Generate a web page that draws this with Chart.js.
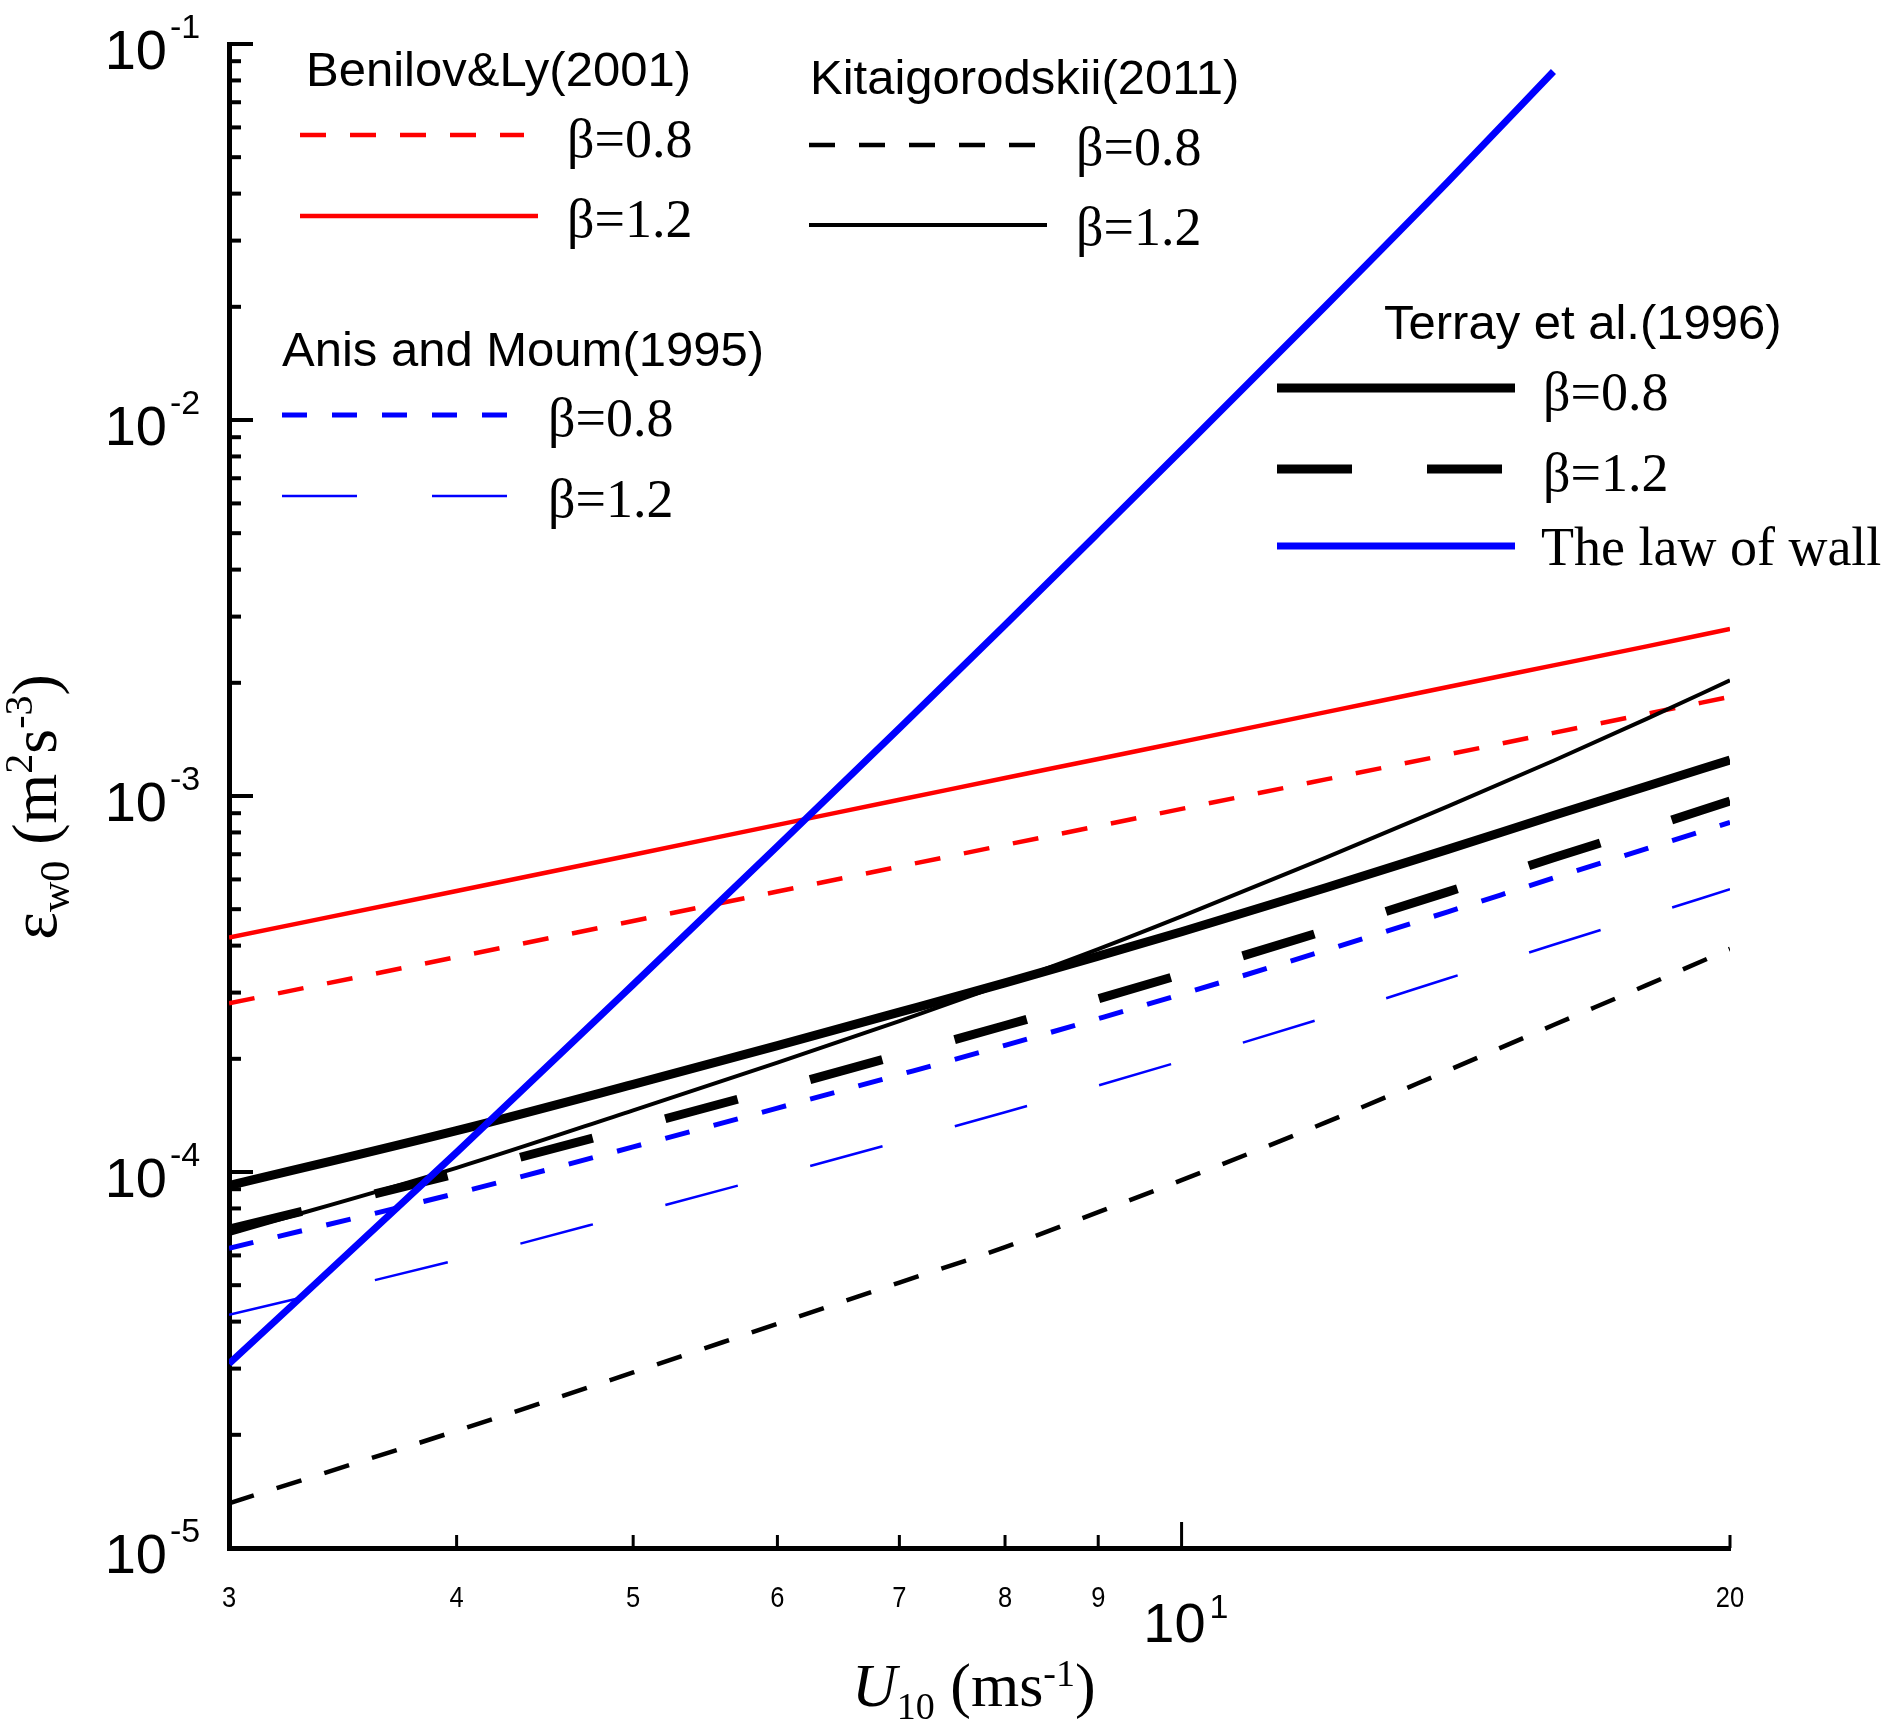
<!DOCTYPE html>
<html>
<head>
<meta charset="utf-8">
<script src="https://cdn.jsdelivr.net/npm/chart.js@4.4.1/dist/chart.umd.min.js"></script>
<style>
    html, body { margin: 0; padding: 0; background: #fff; }
    canvas { display: block; }
</style>
</head>
<body>
<canvas id="epsChart" width="1900" height="1736"></canvas>
<script>
// Wind speed grid (m/s)
const windSpeed = [3, 4, 5, 6, 7, 8, 9, 10, 12, 14, 16, 18, 20];

// Dissipation rate eps_w0 (m^2 s^-3)
const benilov08 = [2.81e-4, 3.73e-4, 4.65e-4, 5.57e-4, 6.49e-4, 7.41e-4, 8.32e-4, 9.24e-4, 1.107e-3, 1.289e-3, 1.472e-3, 1.654e-3, 1.835e-3];
const benilov12 = [4.20e-4, 5.59e-4, 6.98e-4, 8.38e-4, 9.77e-4, 1.117e-3, 1.254e-3, 1.393e-3, 1.671e-3, 1.950e-3, 2.225e-3, 2.50e-3, 2.78e-3];
const kitai08 = [1.315e-5, 2.05e-5, 2.93e-5, 3.95e-5, 5.08e-5, 6.31e-5, 7.82e-5, 9.51e-5, 1.355e-4, 1.862e-4, 2.46e-4, 3.14e-4, 3.92e-4];
const kitai12 = [6.84e-5, 1.026e-4, 1.459e-4, 1.954e-4, 2.518e-4, 3.170e-4, 3.917e-4, 4.786e-4, 6.86e-4, 9.38e-4, 1.241e-3, 1.603e-3, 2.03e-3];
const anis08 = [6.27e-5, 8.78e-5, 1.166e-4, 1.479e-4, 1.815e-4, 2.172e-4, 2.558e-4, 2.970e-4, 3.89e-4, 4.92e-4, 6.05e-4, 7.24e-4, 8.51e-4];
const anis12 = [4.17e-5, 5.83e-5, 7.75e-5, 9.82e-5, 1.205e-4, 1.442e-4, 1.699e-4, 1.973e-4, 2.58e-4, 3.27e-4, 4.02e-4, 4.81e-4, 5.65e-4];
const terray08 = [9.20e-5, 1.288e-4, 1.710e-4, 2.168e-4, 2.661e-4, 3.184e-4, 3.750e-4, 4.355e-4, 5.70e-4, 7.21e-4, 8.87e-4, 1.062e-3, 1.247e-3];
const terray12 = [7.05e-5, 9.9e-5, 1.315e-4, 1.668e-4, 2.048e-4, 2.452e-4, 2.889e-4, 3.356e-4, 4.39e-4, 5.56e-4, 6.85e-4, 8.21e-4, 9.70e-4];
const lawOfWall = [3.09e-5, 1.128e-4, 3.15e-4, 7.35e-4, 1.514e-3, 2.85e-3, 5.01e-3, 8.32e-3, 2.014e-2, 4.3e-2, 8.45e-2, null, null];

// Tick labels
const yTickPowers = [-1, -2, -3, -4, -5];
const xSmallTicks = [4, 5, 6, 7, 8, 9, 20];
const xSmallLabels = ['3', '4', '5', '6', '7', '8', '9', '20'];
const xLabelValues = [3, 4, 5, 6, 7, 8, 9, 20];
const xMajorTick = 10;

const SANS = "'Liberation Sans', Arial, sans-serif";
const SERIF = "'Liberation Serif', 'Times New Roman', serif";

function toPoints(values) {
    return windSpeed.map((u, i) => ({ x: u, y: values[i] }));
}

function lineSet(label, values, color, width, dash) {
    return {
        label: label,
        data: toPoints(values),
        borderColor: color,
        borderWidth: width,
        borderDash: dash || [],
        borderCapStyle: 'butt',
        pointRadius: 0,
        fill: false,
        spanGaps: false,
        cubicInterpolationMode: 'monotone'
    };
}

// index 0 is drawn on top
const datasets = [
    lineSet('The law of wall', lawOfWall, '#0000ff', 7),
    lineSet('Terray β=0.8', terray08, '#000000', 9),
    lineSet('Terray β=1.2', terray12, '#000000', 9, [75, 75]),
    lineSet('Kitaigorodskii β=1.2', kitai12, '#000000', 4),
    lineSet('Kitaigorodskii β=0.8', kitai08, '#000000', 4.5, [26, 24]),
    lineSet('Benilov β=1.2', benilov12, '#ff0000', 4.5),
    lineSet('Benilov β=0.8', benilov08, '#ff0000', 4.5, [26, 24]),
    lineSet('Anis β=0.8', anis08, '#0000ff', 5, [25, 25]),
    lineSet('Anis β=1.2', anis12, '#0000ff', 2.5, [75, 75])
];

// Text made of pieces with different fonts / offsets (sub- and superscripts)
function richText(ctx, parts, x, y, align) {
    let total = 0;
    parts.forEach(p => {
        ctx.font = p.font;
        p.w = ctx.measureText(p.text).width;
        total += p.w;
    });
    let cx = x;
    if (align === 'center') cx = x - total / 2;
    if (align === 'right') cx = x - total;
    ctx.textAlign = 'left';
    ctx.textBaseline = 'alphabetic';
    parts.forEach(p => {
        ctx.font = p.font;
        ctx.fillText(p.text, cx, y + (p.dy || 0));
        cx += p.w;
    });
}

// Inward ticks, tick labels and axis titles
const axisDecor = {
    id: 'axisDecor',
    afterDraw(chart) {
        const ctx = chart.ctx;
        const x = chart.scales.x;
        const y = chart.scales.y;
        const area = chart.chartArea;
        ctx.save();
        ctx.strokeStyle = '#000';
        ctx.fillStyle = '#000';

        // y ticks: decades and 2..9
        ctx.lineWidth = 4;
        yTickPowers.forEach(p => {
            for (let m = 1; m <= 9; m++) {
                if (p === -1 && m > 1) break;
                const py = y.getPixelForValue(m * Math.pow(10, p));
                const len = m === 1 ? 24 : 12;
                ctx.beginPath();
                ctx.moveTo(area.left, py);
                ctx.lineTo(area.left + len, py);
                ctx.stroke();
            }
        });

        // y labels 10^p
        yTickPowers.forEach(p => {
            const py = y.getPixelForValue(Math.pow(10, p));
            ctx.textAlign = 'right';
            ctx.textBaseline = 'alphabetic';
            ctx.font = '56px ' + SANS;
            ctx.fillText('10', area.left - 62, py + 25);
            ctx.textAlign = 'left';
            ctx.font = '34px ' + SANS;
            ctx.fillText(String(p), area.left - 59, py - 6);
        });

        // x ticks
        ctx.lineWidth = 3;
        xSmallTicks.forEach(v => {
            const px = x.getPixelForValue(v);
            ctx.beginPath();
            ctx.moveTo(px, area.bottom);
            ctx.lineTo(px, area.bottom - 13);
            ctx.stroke();
        });
        const p10 = x.getPixelForValue(xMajorTick);
        ctx.beginPath();
        ctx.moveTo(p10, area.bottom);
        ctx.lineTo(p10, area.bottom - 26);
        ctx.stroke();

        // x labels (narrow digits)
        ctx.textAlign = 'center';
        ctx.textBaseline = 'alphabetic';
        ctx.font = '30px ' + SANS;
        xLabelValues.forEach((v, i) => {
            ctx.save();
            ctx.translate(x.getPixelForValue(v), area.bottom + 59);
            ctx.scale(0.85, 1);
            ctx.fillText(xSmallLabels[i], 0, 0);
            ctx.restore();
        });
        ctx.textAlign = 'right';
        ctx.font = '56px ' + SANS;
        ctx.fillText('10', p10 + 24, area.bottom + 94);
        ctx.textAlign = 'left';
        ctx.font = '34px ' + SANS;
        ctx.fillText('1', p10 + 28, area.bottom + 70);

        // x title: U10 (ms-1)
        richText(ctx, [
            { text: 'U', font: 'italic 62px ' + SERIF },
            { text: '10', font: '38px ' + SERIF, dy: 13 },
            { text: ' (ms', font: '62px ' + SERIF },
            { text: '-1', font: '38px ' + SERIF, dy: -20 },
            { text: ')', font: '62px ' + SERIF }
        ], 852, 1706, 'left');

        // y title: eps_w0 (m2s-3)
        ctx.save();
        ctx.translate(56, 807);
        ctx.rotate(-Math.PI / 2);
        richText(ctx, [
            { text: 'ε', font: '66px ' + SERIF },
            { text: 'w0', font: '42px ' + SERIF, dy: 13 },
            { text: ' (m', font: '64px ' + SERIF },
            { text: '2', font: '40px ' + SERIF, dy: -24 },
            { text: 's', font: '64px ' + SERIF },
            { text: '-3', font: '40px ' + SERIF, dy: -24 },
            { text: ')', font: '64px ' + SERIF }
        ], 0, 0, 'center');
        ctx.restore();

        ctx.restore();
    }
};

// Grouped legend inside the plot
const legendGroups = [
    { title: 'Benilov&Ly(2001)', tx: 306, ty: 86, items: [
        { ds: 6, text: 'β=0.8', x1: 300, x2: 524, ly: 135, lx: 567, by: 157 },
        { ds: 5, text: 'β=1.2', x1: 300, x2: 538, ly: 216, lx: 567, by: 237 }
    ]},
    { title: 'Kitaigorodskii(2011)', tx: 810, ty: 94, items: [
        { ds: 4, text: 'β=0.8', x1: 809, x2: 1036, ly: 145, lx: 1076, by: 165 },
        { ds: 3, text: 'β=1.2', x1: 809, x2: 1047, ly: 225, lx: 1076, by: 245 }
    ]},
    { title: 'Anis and Moum(1995)', tx: 282, ty: 366, items: [
        { ds: 7, text: 'β=0.8', x1: 282, x2: 508, ly: 415, lx: 548, by: 436 },
        { ds: 8, text: 'β=1.2', x1: 282, x2: 508, ly: 496, lx: 548, by: 517 }
    ]},
    { title: 'Terray et al.(1996)', tx: 1384, ty: 339, items: [
        { ds: 1, text: 'β=0.8', x1: 1277, x2: 1515, ly: 388, lx: 1543, by: 410 },
        { ds: 2, text: 'β=1.2', x1: 1277, x2: 1502, ly: 469, lx: 1543, by: 491 },
        { ds: 0, text: 'The law of wall', x1: 1277, x2: 1515, ly: 546, lx: 1541, by: 565 }
    ]}
];

const groupLegend = {
    id: 'groupLegend',
    afterDraw(chart) {
        const ctx = chart.ctx;
        ctx.save();
        ctx.fillStyle = '#000';
        ctx.textAlign = 'left';
        ctx.textBaseline = 'alphabetic';
        legendGroups.forEach(g => {
            ctx.font = '49px ' + SANS;
            ctx.fillText(g.title, g.tx, g.ty);
            g.items.forEach(it => {
                const ds = chart.data.datasets[it.ds];
                ctx.strokeStyle = ds.borderColor;
                ctx.lineWidth = ds.borderWidth;
                ctx.setLineDash(ds.borderDash);
                ctx.lineCap = 'butt';
                ctx.beginPath();
                ctx.moveTo(it.x1, it.ly);
                ctx.lineTo(it.x2, it.ly);
                ctx.stroke();
                ctx.setLineDash([]);
                ctx.font = '54px ' + SERIF;
                ctx.fillText(it.text, it.lx, it.by);
            });
        });
        ctx.restore();
    }
};

const ctx = document.getElementById('epsChart').getContext('2d');
const epsChart = new Chart(ctx, {
    type: 'line',
    data: { datasets: datasets },
    options: {
        responsive: false,
        devicePixelRatio: 1,
        animation: false,
        layout: { padding: { left: 229, right: 170, top: 44, bottom: 188 } },
        plugins: {
            legend: { display: false },
            tooltip: { enabled: false }
        },
        scales: {
            x: {
                type: 'logarithmic',
                min: 3,
                max: 20,
                ticks: { display: false },
                grid: { display: false, drawTicks: false },
                border: { display: true, color: '#000', width: 5 },
                afterFit: s => { s.height = 0; }
            },
            y: {
                type: 'logarithmic',
                min: 1e-5,
                max: 1e-1,
                ticks: { display: false },
                grid: { display: false, drawTicks: false },
                border: { display: true, color: '#000', width: 5 },
                afterFit: s => { s.width = 0; }
            }
        }
    },
    plugins: [axisDecor, groupLegend]
});
</script>
</body>
</html>
